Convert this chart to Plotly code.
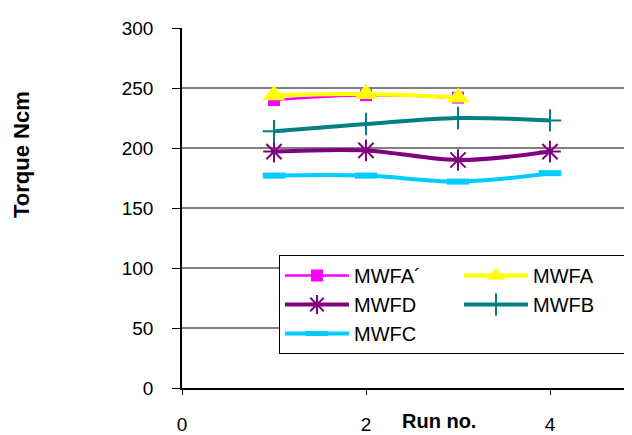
import plotly.graph_objects as go

runs = [1, 2, 3, 4]
mwfa_prime = [240, 244, 242]
mwfa = [244, 245, 242]
mwfd = [197, 198, 190, 197]
mwfb = [214, 220, 225, 223]
mwfc = [177, 177, 172, 179]

x_ticks = [0, 2, 4]
y_ticks = [0, 50, 100, 150, 200, 250, 300]

FONT = "Arial, Liberation Sans, sans-serif"

# the page body has an 8px margin, so the figure is offset by (8, 8) on screen
OFF = 8
PL, PT, PW, PH = 182 - OFF, 28 - OFF, 450, 360

fig = go.Figure()
fig.add_trace(go.Scatter(
    x=runs[:len(mwfa_prime)], y=mwfa_prime, name="MWFA´", mode="lines+markers",
    line=dict(color="#FF00FF", width=2.5, shape="spline"),
    marker=dict(symbol="square", size=12, color="#FF00FF")))
fig.add_trace(go.Scatter(
    x=runs[:len(mwfa)], y=mwfa, name="MWFA", mode="lines+markers",
    line=dict(color="#FFFF00", width=4, shape="spline"),
    marker=dict(symbol="triangle-up", size=20, color="#FFFF00")))
fig.add_trace(go.Scatter(
    x=runs, y=mwfd, name="MWFD", mode="lines+markers",
    line=dict(color="#800080", width=4, shape="spline"),
    marker=dict(symbol="asterisk-open", size=18, color="#800080",
                line=dict(color="#800080", width=2))))
fig.add_trace(go.Scatter(
    x=runs, y=mwfb, name="MWFB", mode="lines+markers",
    line=dict(color="#008080", width=4, shape="spline"),
    marker=dict(symbol="cross-thin-open", size=16, color="#008080",
                line=dict(color="#008080", width=2))))
fig.add_trace(go.Scatter(
    x=runs, y=mwfc, name="MWFC", mode="lines+markers",
    line=dict(color="#00CCFF", width=4, shape="spline"),
    marker=dict(symbol="line-ew-open", size=16, color="#00CCFF",
                line=dict(color="#00CCFF", width=6))))

fig.update_layout(
    width=632, height=435,
    margin=dict(l=PL, r=632 - PL - PW, t=PT, b=435 - PT - PH, autoexpand=False),
    paper_bgcolor="white", plot_bgcolor="white",
    font=dict(family=FONT, size=19, color="black"),
    showlegend=True,
    legend=dict(
        orientation="h", x=(279 - 182) / 450, y=(388 - 255) / 360,
        xanchor="left", yanchor="top",
        bgcolor="white", bordercolor="black", borderwidth=1,
        font=dict(family=FONT, size=20, color="black"),
        itemwidth=64, entrywidth=100, entrywidthmode="pixels",
        traceorder="normal",
    ),
    xaxis=dict(
        range=[0, 450 / 92], tickvals=x_ticks, ticktext=[str(v) for v in x_ticks],
        automargin=False,
        showgrid=False, zeroline=False,
        showline=True, linecolor="black", linewidth=1.5,
        ticks="outside", ticklen=5, tickcolor="black", tickwidth=1,
        ticklabelstandoff=13,
        tickfont=dict(family=FONT, size=19, color="black"),
    ),
    yaxis=dict(
        range=[0, 300], tickvals=y_ticks, ticktext=[str(v) for v in y_ticks],
        automargin=False,
        showgrid=True, gridcolor="#808080", gridwidth=2, zeroline=False,
        showline=True, linecolor="black", linewidth=1.5,
        ticks="outside", ticklen=8, tickcolor="black", tickwidth=1,
        ticklabelstandoff=15,
        tickfont=dict(family=FONT, size=19, color="black"),
    ),
    annotations=[
        dict(text="<b>Torque Ncm</b>", xref="paper", yref="paper",
             x=(21 - 182) / 450, y=(388 - 155) / 360, textangle=-90,
             showarrow=False, xanchor="center", yanchor="middle",
             font=dict(family=FONT, size=22, color="black")),
        dict(text="<b>Run no.</b>", xref="paper", yref="paper",
             x=(439 - 182) / 450, y=(388 - 434) / 360,
             showarrow=False, xanchor="center", yanchor="bottom",
             font=dict(family=FONT, size=20, color="black")),
    ],
)

fig.write_html("out.html")
